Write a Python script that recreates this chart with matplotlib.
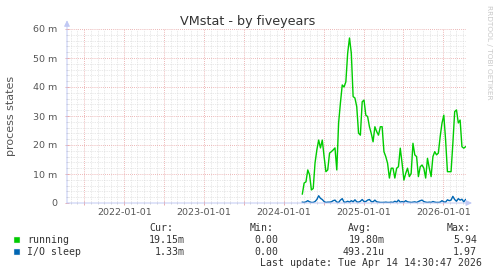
import matplotlib
matplotlib.use("Agg")
import matplotlib.pyplot as plt
import matplotlib.dates as mdates
from matplotlib.patches import Rectangle
from matplotlib.ticker import FuncFormatter, MultipleLocator
import pandas as pd

# sampled values, in milli (m) units
running = [3.1, 6.9, 7.3, 11.4, 9.7, 4.5, 5.0, 13.8, 18.3, 21.7, 19.0, 21.7, 16.0,
           10.8, 11.4, 17.2, 17.7, 18.3, 19.0, 11.4, 27.6, 34.5, 40.7, 40.0, 41.8,
           51.7, 56.9, 51.7, 36.7, 36.2, 33.2, 24.1, 23.4, 34.9, 35.5, 30.3, 29.8,
           26.3, 24.0, 21.1, 26.3, 24.6, 23.4, 26.3, 26.3, 17.7, 16.0, 13.7, 8.6,
           12.0, 12.0, 8.6, 12.0, 12.5, 18.9, 13.7, 7.9, 10.2, 12.0, 9.1, 10.2,
           20.6, 16.6, 16.0, 9.1, 12.5, 13.1, 12.0, 8.6, 15.4, 12.0, 9.1, 16.0,
           17.7, 16.6, 17.2, 22.9, 27.5, 30.3, 21.7, 10.8, 10.8, 10.8, 20.6, 31.5,
           32.1, 27.6, 28.6, 19.4, 18.9, 19.4]
io_sleep = [0.3, 0.2, 0.4, 0.8, 0.4, 0.2, 0.2, 0.5, 1.2, 2.5, 1.6, 1.2, 0.5, 0.2,
            0.3, 0.3, 0.4, 0.8, 1.0, 0.3, 0.2, 1.0, 1.5, 0.3, 0.3, 0.6, 0.3, 0.8,
            0.4, 1.1, 0.4, 0.3, 0.6, 1.2, 0.5, 0.5, 1.0, 1.2, 0.5, 0.4, 1.0, 0.4,
            0.3, 0.2, 0.2, 0.2, 0.3, 0.2, 0.2, 0.3, 0.2, 0.6, 0.3, 1.0, 0.3, 0.5,
            0.3, 0.8, 0.4, 0.3, 0.2, 0.3, 0.4, 0.2, 0.5, 0.8, 1.0, 0.5, 0.3, 0.2,
            0.3, 0.2, 0.5, 0.3, 0.2, 0.2, 0.3, 0.8, 0.4, 0.3, 1.1, 0.8, 1.0, 2.3,
            1.2, 0.6, 1.5, 1.0, 1.3, 0.4, 1.2]
first_sample = "2024-03-26"
last_sample = "2026-04-12"
range_start = "2021-04-14"
range_end = "2026-04-14"

series_names = ["running", "I/O sleep"]
series_colors = ["#00cc00", "#0066b3"]
cur_vals = ["19.15m", "1.33m"]
min_vals = ["0.00", "0.00"]
avg_vals = ["19.80m", "493.21u"]
max_vals = ["5.94", "1.97"]
last_update = "Last update: Tue Apr 14 14:30:47 2026"

W, H = 497, 276
fig = plt.figure(figsize=(W / 100, H / 100), dpi=100)
fig.patch.set_facecolor("white")

# pixel -> figure fraction helpers
def fx(px):
    return px / W

def fy(py):
    return 1 - py / H

ax = fig.add_axes([fx(67), fy(203), fx(466) - fx(67), fy(29) - fy(203)])
ax.set_facecolor("white")

dates = pd.date_range(first_sample, last_sample, periods=len(running))
ax.plot(dates, running, color=series_colors[0], lw=1.0)
ax.plot(dates, io_sleep, color=series_colors[1], lw=1.0)

ax.set_xlim(pd.Timestamp(range_start), pd.Timestamp(range_end))
ax.set_ylim(0, 60)

# grid: red every 10m / half year, grey every 2m / month
ax.yaxis.set_major_locator(MultipleLocator(10))
ax.yaxis.set_minor_locator(MultipleLocator(2))
ax.xaxis.set_major_locator(mdates.MonthLocator(bymonth=[1, 7]))
ax.xaxis.set_minor_locator(mdates.MonthLocator())
ax.xaxis.set_major_formatter(FuncFormatter(
    lambda v, p: mdates.num2date(v).strftime("%Y-%m-%d") if mdates.num2date(v).month == 1 else ""))
ax.yaxis.set_major_formatter(FuncFormatter(lambda v, p: "0" if v == 0 else f"{v:.0f} m"))

ax.grid(which="minor", color="#d4d4d4", linestyle=(0, (1, 1.5)), lw=0.5)
ax.grid(which="major", color="#e8a0a0", linestyle=(0, (1, 1.5)), lw=0.6)
ax.set_axisbelow(True)

ax.tick_params(axis="both", which="major", labelsize=6.8, labelcolor="#555555",
               color="#e8a0a0", length=2.5, width=0.6, direction="inout")
ax.tick_params(axis="both", which="minor", color="#c4c4c4", length=2, width=0.5,
               direction="inout")
ax.tick_params(axis="y", which="major", pad=5.5)
ax.tick_params(axis="x", which="major", pad=2.5)

for s in ax.spines.values():
    s.set_visible(False)

axis_col = "#c0c8f4"
arrow = dict(arrowstyle="-|>,head_length=0.35,head_width=0.17",
             color=axis_col, lw=0.7, shrinkA=0, shrinkB=0)
ax.annotate("", xy=(0, 1.05), xytext=(0, 0), xycoords="axes fraction", arrowprops=arrow)
ax.annotate("", xy=(1.015, 0), xytext=(0, 0), xycoords="axes fraction", arrowprops=arrow)

fig.text(fx(11), fy(116), "process states", rotation=90, fontsize=8,
         color="#555555", ha="center", va="center")
fig.text(fx(248), fy(25), "VMstat - by fiveyears", fontsize=9.2, color="#333333",
         ha="center", va="baseline")
fig.text(fx(488.5), fy(5), "RRDTOOL / TOBI OETIKER", fontsize=5.3, color="#c8c8c8",
         rotation=270, ha="center", va="top")

# legend block
mono = dict(family="DejaVu Sans Mono", fontsize=7.1, color="#333333", va="center")
fig.text(fx(149), fy(228), "Cur:", ha="left", **mono)
fig.text(fx(250), fy(228), "Min:", ha="left", **mono)
fig.text(fx(348), fy(228), "Avg:", ha="left", **mono)
fig.text(fx(447), fy(228), "Max:", ha="left", **mono)
rows_y = [240, 252]
for i, name in enumerate(series_names):
    y = rows_y[i]
    fig.add_artist(Rectangle((fx(14), fy(y + 3)), fx(6), fy(y - 3) - fy(y + 3),
                             transform=fig.transFigure, facecolor=series_colors[i],
                             edgecolor="#eeeeee", lw=0.3))
    fig.text(fx(27), fy(y), name, ha="left", **mono)
    fig.text(fx(185), fy(y), cur_vals[i], ha="right", **mono)
    fig.text(fx(278), fy(y), min_vals[i], ha="right", **mono)
    fig.text(fx(385), fy(y), avg_vals[i], ha="right", **mono)
    fig.text(fx(477), fy(y), max_vals[i], ha="right", **mono)
fig.text(fx(482), fy(263), last_update, ha="right", **mono)

fig.savefig("out.png", dpi=100, facecolor="white")
